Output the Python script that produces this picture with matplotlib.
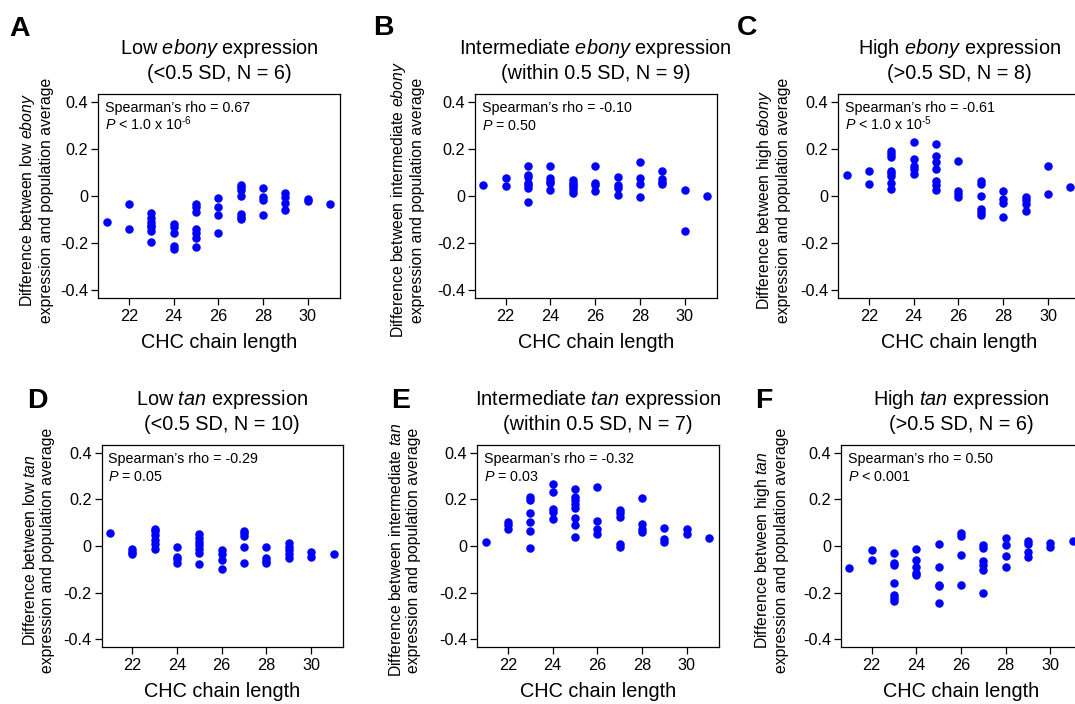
import matplotlib
matplotlib.use("Agg")
import matplotlib.pyplot as plt
from matplotlib.ticker import FixedLocator, FixedFormatter

plt.rcParams['font.family'] = ['Liberation Sans', 'DejaVu Sans']
plt.rcParams['mathtext.fontset'] = 'custom'
plt.rcParams['mathtext.rm'] = 'Liberation Sans'
plt.rcParams['mathtext.it'] = 'Liberation Sans:italic'
plt.rcParams['mathtext.bf'] = 'Liberation Sans:bold'

chain_lengths = [21, 22, 23, 24, 25, 26, 27, 28, 29, 30, 31]

# Panel A: low ebony
a_vals = [
    [-0.109],
    [-0.035, -0.140],
    [-0.074, -0.092, -0.109, -0.123, -0.133, -0.148, -0.197],
    [-0.119, -0.130, -0.156, -0.213, -0.223],
    [-0.033, -0.045, -0.067, -0.142, -0.156, -0.177, -0.218],
    [-0.009, -0.048, -0.082, -0.157],
    [0.047, 0.037, 0.026, 0.000, -0.077, -0.088, -0.099],
    [0.035, -0.006, -0.016, -0.081],
    [0.014, -0.006, -0.031, -0.060],
    [-0.013, -0.021],
    [-0.033],
]
# Panel B: intermediate ebony
b_vals = [
    [0.047],
    [0.077, 0.041],
    [0.129, 0.089, 0.079, 0.057, 0.047, 0.033, -0.026],
    [0.128, 0.075, 0.065, 0.054, 0.026],
    [0.068, 0.057, 0.047, 0.037, 0.026, 0.011],
    [0.128, 0.057, 0.047, 0.023],
    [0.082, 0.047, 0.035, 0.004],
    [0.146, 0.075, 0.051, -0.003],
    [0.108, 0.071, 0.061, 0.051],
    [0.027, -0.148],
    [0.000],
]
# Panel C: high ebony
c_vals = [
    [0.089],
    [0.106, 0.051],
    [0.189, 0.179, 0.167, 0.105, 0.096, 0.087, 0.054, 0.028],
    [0.228, 0.159, 0.129, 0.113, 0.094],
    [0.221, 0.169, 0.146, 0.116, 0.062, 0.048, 0.027],
    [0.148, 0.020, 0.007, -0.006],
    [0.062, 0.051, 0.000, -0.057, -0.067, -0.079],
    [0.023, -0.013, -0.031, -0.091],
    [-0.003, -0.017, -0.034, -0.062],
    [0.129, 0.007],
    [0.040],
]
# Panel D: low tan
d_vals = [
    [0.057],
    [-0.014, -0.024, -0.036],
    [0.075, 0.064, 0.047, 0.026, 0.007, -0.011],
    [-0.006, -0.046, -0.057, -0.071],
    [0.050, 0.036, 0.019, 0.004, -0.014, -0.031, -0.078],
    [-0.017, -0.036, -0.060, -0.100],
    [0.065, 0.054, 0.043, -0.003, -0.074],
    [-0.006, -0.053, -0.063, -0.074],
    [0.011, -0.003, -0.017, -0.034, -0.050],
    [-0.024, -0.048],
    [-0.036],
]
# Panel E: intermediate tan
e_vals = [
    [0.016],
    [0.103, 0.090, 0.075],
    [0.208, 0.196, 0.140, 0.104, 0.063, -0.010],
    [0.265, 0.233, 0.157, 0.144, 0.117],
    [0.243, 0.211, 0.196, 0.179, 0.161, 0.118, 0.091, 0.038],
    [0.255, 0.108, 0.075, 0.051],
    [0.154, 0.140, 0.125, 0.009, -0.003],
    [0.206, 0.093, 0.075, 0.061],
    [0.077, 0.028, 0.019],
    [0.073, 0.051],
    [0.034],
]
# Panel F: high tan
f_vals = [
    [-0.095],
    [-0.017, -0.058],
    [-0.031, -0.071, -0.081, -0.157, -0.212, -0.224, -0.235],
    [-0.013, -0.058, -0.088, -0.114, -0.125],
    [0.009, -0.091, -0.166, -0.173, -0.246],
    [0.054, 0.043, -0.037, -0.166],
    [0.004, -0.007, -0.063, -0.081, -0.102, -0.201],
    [0.036, 0.003, -0.041, -0.091],
    [0.023, 0.009, -0.026, -0.048],
    [0.011, -0.003],
    [0.023],
]

panel_letters = ['A', 'B', 'C', 'D', 'E', 'F']
title_line1 = [r'Low $\mathit{ebony}$ expression',
               r'Intermediate $\mathit{ebony}$ expression',
               r'High $\mathit{ebony}$ expression',
               r'Low $\mathit{tan}$ expression',
               r'Intermediate $\mathit{tan}$ expression',
               r'High $\mathit{tan}$ expression']
title_line2 = ['(<0.5 SD, N = 6)', '(within 0.5 SD, N = 9)', '(>0.5 SD, N = 8)',
               '(<0.5 SD, N = 10)', '(within 0.5 SD, N = 7)', '(>0.5 SD, N = 6)']
ylabel_line1 = [r'Difference between low $\mathit{ebony}$',
                r'Difference between intermediate $\mathit{ebony}$',
                r'Difference between high $\mathit{ebony}$',
                r'Difference between low $\mathit{tan}$',
                r'Difference between intermediate $\mathit{tan}$',
                r'Difference between high $\mathit{tan}$']
ylabel_line2 = 'expression and population average'
rho_text = ['0.67', '-0.10', '-0.61', '-0.29', '-0.32', '0.50']
p_text = [r'$\mathit{P}$ < 1.0 x 10$^{\text{-6}}$', r'$\mathit{P}$ = 0.50',
          r'$\mathit{P}$ < 1.0 x 10$^{\text{-5}}$', r'$\mathit{P}$ = 0.05',
          r'$\mathit{P}$ = 0.03', r'$\mathit{P}$ < 0.001']
xtick_vals = [22, 24, 26, 28, 30]
ytick_vals = [0.4, 0.2, 0, -0.2, -0.4]
ytick_labels = ['0.4', '0.2', '0', '-0.2', '-0.4']
all_vals = [a_vals, b_vals, c_vals, d_vals, e_vals, f_vals]

W, H = 1075, 704
fig = plt.figure(figsize=(W / 100, H / 100), dpi=100)
fig.patch.set_facecolor('white')

# pixel boxes (left, top, right, bottom)
boxes = [(98.3, 94, 339.5, 298), (475, 94, 716.5, 298), (838.3, 94, 1079.8, 298),
         (101.7, 445, 342.9, 647), (477.3, 445, 718.5, 647), (841, 445, 1082.2, 647)]
letter_pos = [(9, 16), (373, 15), (737, 15), (27, 388), (391, 388), (755, 388)]
ylabel_x = [36, 407, 773, 38.5, 404.5, 771]

for i in range(6):
    l, t, r, b = boxes[i]
    ax = fig.add_axes([l / W, 1 - b / H, (r - l) / W, (b - t) / H])
    xs, ys = [], []
    for cl, vals in zip(chain_lengths, all_vals[i]):
        for v in vals:
            xs.append(cl)
            ys.append(v)
    ax.plot(xs, ys, 'o', color='#0000ff', markersize=6.1, markeredgewidth=0,
            clip_on=False if i not in (2, 5) else True)
    ax.set_xlim(20.63, 31.42)
    ax.set_ylim(-0.433, 0.433)
    ax.xaxis.set_major_locator(FixedLocator(xtick_vals))
    ax.yaxis.set_major_locator(FixedLocator(ytick_vals))
    ax.yaxis.set_major_formatter(FixedFormatter(ytick_labels))
    ax.tick_params(axis='both', direction='out', length=5.2, width=0.9,
                   labelsize=11.7, colors='black')
    ax.tick_params(axis='y', pad=2)
    ax.tick_params(axis='x', pad=3)
    for s in ax.spines.values():
        s.set_linewidth(0.9)
    ax.set_xlabel('CHC chain length', fontsize=14.3, labelpad=6)
    ax.set_title(title_line1[i] + '\n' + title_line2[i], fontsize=14.3,
                 pad=10.8, linespacing=1.25)
    h = b - t
    ax.text(0.027, 1 - 17.6 / h, "Spearman\u2019s rho = " + rho_text[i],
            transform=ax.transAxes, ha='left', va='baseline', fontsize=10.3)
    ax.text(0.027, 1 - 35.6 / h, p_text[i],
            transform=ax.transAxes, ha='left', va='baseline', fontsize=10.3)
    cy = (t + b) / 2 + 4
    fig.text(ylabel_x[i] / W, 1 - cy / H, ylabel_line1[i] + '\n' + ylabel_line2,
             rotation=90, ha='center', va='center', fontsize=11.3,
             multialignment='center', linespacing=1.2)
    lx, ly = letter_pos[i]
    fig.text(lx / W, 1 - ly / H, panel_letters[i], fontsize=20.5,
             fontweight='bold', ha='left', va='top')

fig.savefig('out.png', dpi=100, facecolor='white')
